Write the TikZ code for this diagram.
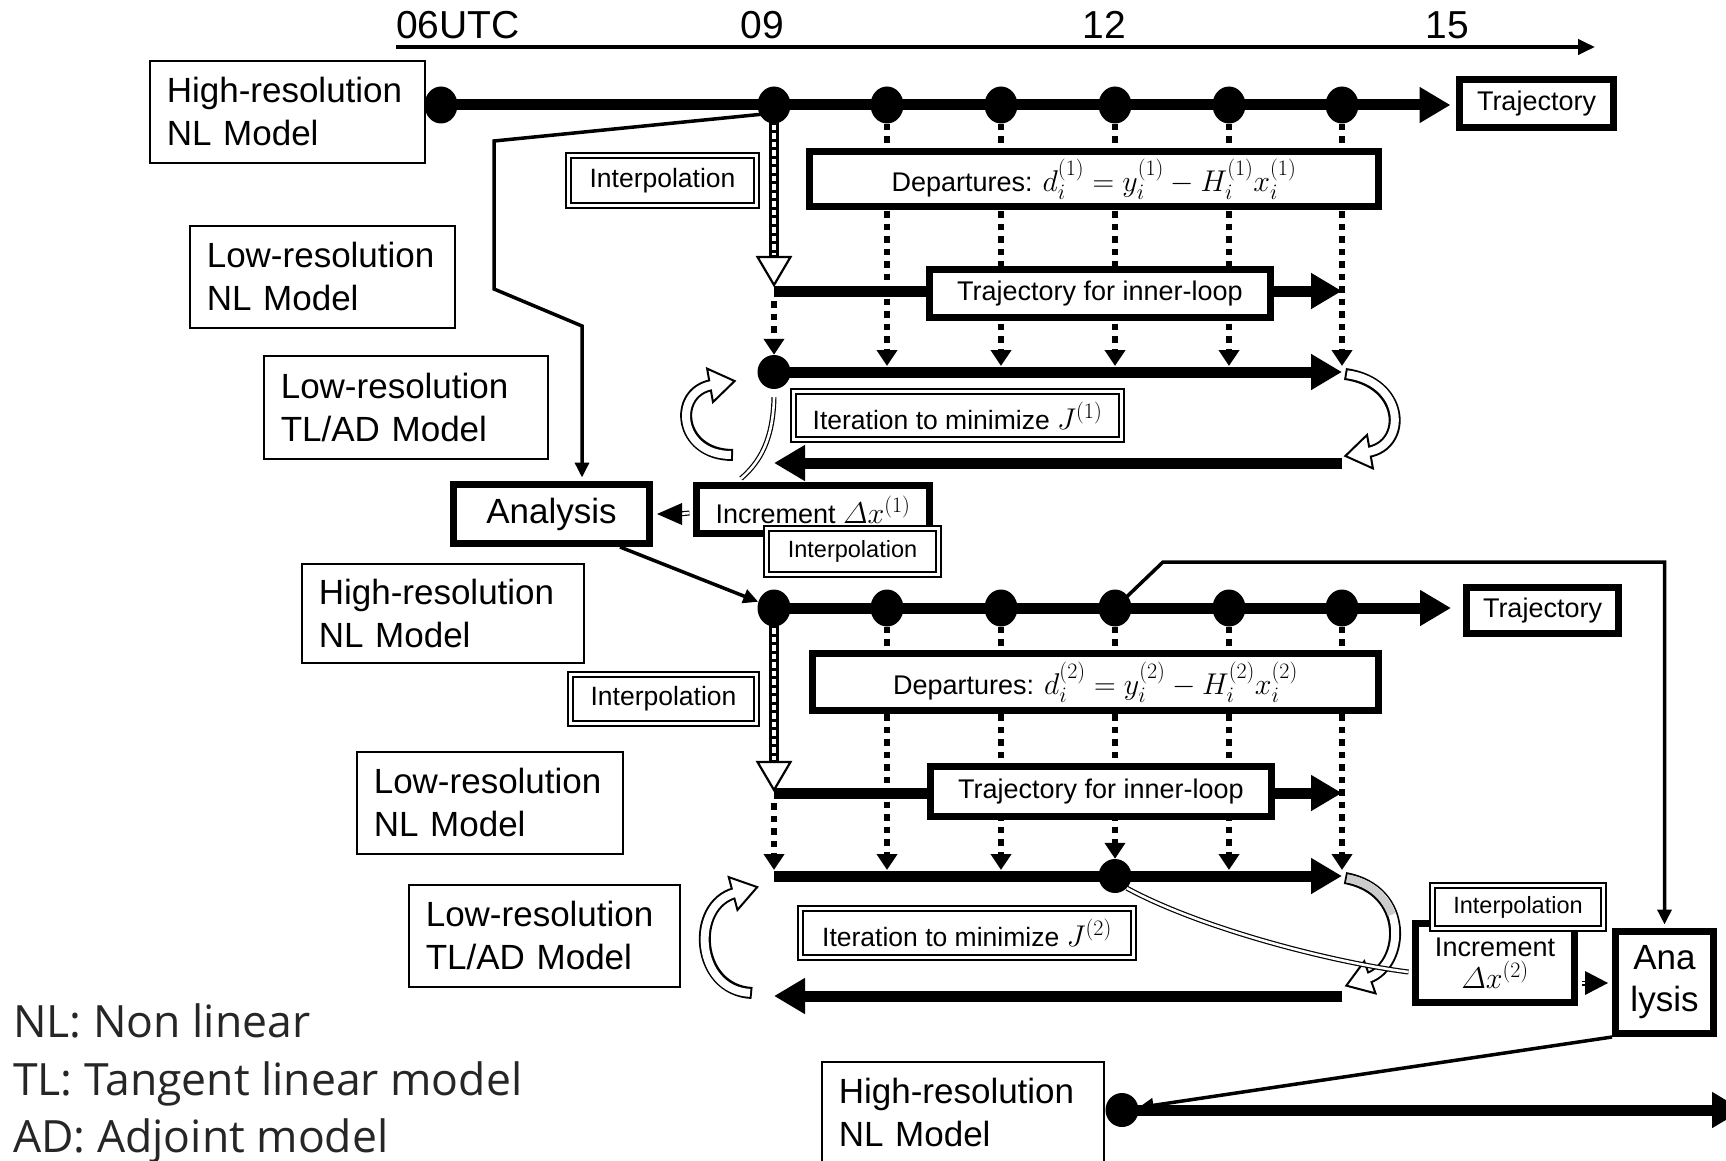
\RequirePackage{fix-cm}
\documentclass[tikz,border=0pt]{standalone}
\usepackage{amsmath}
\usepackage[no-math]{fontspec}
\setmainfont{Liberation Sans}
\newfontfamily\legendfont{Open Sans}
\usetikzlibrary{arrows.meta,calc,shapes.geometric}
\definecolor{legendgray}{HTML}{262626}
\DeclareMathSizes{30}{30}{22}{16}
\newcommand\mth[1]{{\fontsize{30}{32}\selectfont$#1$}}
\newcommand\hollowarrow[3]{%
  \draw[line width=12pt] #1;
  \filldraw[fill=white, line width=2pt, line join=miter]
    ($(#3)!-23pt!(#2)$) -- ($(#3)!2pt!(#2)!17pt!90:(#2)$) --
    ($(#3)!2pt!(#2)!17pt!-90:(#2)$) -- cycle;
  \draw[white, line width=8pt, shorten <=2pt] #1;
}
\begin{document}
\begin{tikzpicture}[x=1pt,y=-1pt,
  model/.style={draw, line width=1.8pt, fill=white, align=left, inner xsep=17pt,
    inner ysep=0pt, anchor=north west, minimum height=102pt,
    font=\fontsize{35}{43}\selectfont},
  thickbox/.style={draw, line width=7pt, fill=white, inner sep=0pt, align=center,
    font=\fontsize{27}{32}\selectfont},
  dblbox/.style={draw, double, double distance=3.5pt, line width=1.5pt, fill=white,
    inner sep=0pt, font=\fontsize{26.5}{32}\selectfont},
  bigdot/.style={ellipse, fill=black, inner sep=0pt, minimum width=33pt, minimum height=37pt},
  flow/.style={line width=11pt, -{Triangle[length=31pt,width=34pt]}},
  obs/.style={line width=6.5pt, dash pattern=on 6.5pt off 6pt, -{Triangle[length=16pt,width=20pt]}},
  conn/.style={line width=3.5pt, -{Triangle[length=15pt,width=14pt]}},
  dbl/.style={double=white, double distance=2.6pt, line width=1.2pt},
  axlab/.style={inner sep=0pt, font=\fontsize{39}{45}\selectfont},
  legendtxt/.style={inner sep=0pt, anchor=base west, text=legendgray,
    font=\legendfont\fontsize{44.5}{54}\selectfont},
]
\useasboundingbox (0,0) rectangle (1726,1161);
\fill[white] (0,0) rectangle (1726,1161);

% time axis
\coordinate (ax0) at (396,47);
\coordinate (ax1) at (1595,47);
\draw[line width=4pt, -{Triangle[length=17pt,width=15pt]}] (ax0) -- (ax1);
\node[axlab, anchor=base west] (t06) at (396,39) {06UTC};
\node[axlab, anchor=base] (t09) at (762,39) {09};
\node[axlab, anchor=base] (t12) at (1104,39) {12};
\node[axlab, anchor=base] (t15) at (1447,39) {15};

% dots
\node[bigdot] (A0) at (441,105) {};
\foreach \n/\x in {1/774,2/887,3/1001,4/1115,5/1229,6/1342}{
  \node[bigdot] (A\n) at (\x,105) {};
  \node[bigdot] (B\n) at (\x,608) {};
}
\node[bigdot, minimum height=34pt] (I1) at (774,372) {};
\node[bigdot, minimum height=34pt] (I2) at (1115,876) {};
\node[bigdot, minimum height=34pt] (C0) at (1122,1110) {};

\coordinate (ti1s) at (774,291);
\coordinate (ti2s) at (774,793);
\coordinate (i2s) at (774,876);
\coordinate (r1s) at (1342,463);
\coordinate (r2s) at (1342,996);

% dotted observation lines
\foreach \n in {2,...,6} \draw[obs] (A\n) -- ($(A\n |- I1)+(0,-6)$);
\draw[obs] ($(ti1s)+(0,10)$) -- (I1);
\foreach \n in {2,3,5,6} \draw[obs] (B\n) -- ($(B\n |- i2s)+(0,-6)$);
\draw[obs] (B4) -- (I2);
\draw[obs] ($(ti2s)+(0,10)$) -- ($(i2s)+(0,-6)$);

% hollow dashed interpolation arrows
\coordinate (hA) at (774,257);
\draw[line width=10pt] (A1.center) -- (hA);
\draw[white, line width=4.5pt, dash pattern=on 5.5pt off 3pt] ($(A1.center)+(0,20)$) -- ($(hA)+(0,-2)$);
\filldraw[fill=white, line width=2.2pt, line join=miter] ($(hA)+(-16.5,0)$) -- ($(hA)+(16.5,0)$) -- ($(hA)+(0,28)$) -- cycle;
\coordinate (hB) at (774,762);
\draw[line width=10pt] (B1.center) -- (hB);
\draw[white, line width=4.5pt, dash pattern=on 5.5pt off 3pt] ($(B1.center)+(0,20)$) -- ($(hB)+(0,-2)$);
\filldraw[fill=white, line width=2.2pt, line join=miter] ($(hB)+(-16.5,0)$) -- ($(hB)+(16.5,0)$) -- ($(hB)+(0,28)$) -- cycle;

% trajectory boxes and thick flows
\node[thickbox, minimum width=154pt, minimum height=48pt] (trajA) at (1536.5,103.5) {Trajectory};
\node[thickbox, minimum width=152pt, minimum height=46pt] (trajB) at (1542.5,610.5) {Trajectory};
\draw[flow, shorten >=5.5pt] (A0.center) -- (A0 -| trajA.west);
\draw[flow] (ti1s) -- (ti1s -| A6);
\draw[flow] (I1.center) -- (I1 -| A6);
\draw[flow] (r1s) -- (r1s -| I1);
\draw[flow, shorten >=12pt] (B1.center) -- (B1 -| trajB.west);
\draw[flow] (ti2s) -- (ti2s -| B6);
\draw[flow] (i2s) -- (i2s -| B6);
\draw[flow] (r2s) -- (r2s -| i2s);
\draw[flow] (C0.center) -- (1743,1110);

% model boxes
\node[model, text width=241pt] (hr1) at (148.9,59.9) {High-resolution\\NL Model};
\node[model, text width=231pt] (lrn1) at (188.9,224.9) {Low-resolution\\NL Model};
\node[model, text width=250pt, minimum height=103pt] (lrt1) at (262.9,354.9) {Low-resolution\\TL/AD Model};
\node[model, text width=248pt, minimum height=99pt] (hr2) at (300.9,562.9) {High-resolution\\NL Model};
\node[model, text width=232pt] (lrn2) at (355.9,750.9) {Low-resolution\\NL Model};
\node[model, text width=237pt] (lrt2) at (407.9,883.9) {Low-resolution\\TL/AD Model};
\node[model, text width=248pt] (hr3) at (820.9,1060.9) {High-resolution\\NL Model};

% thick boxes
\node[thickbox, minimum width=569pt, minimum height=55pt] (dep1) at (1094,179)
  {Departures: \mth{d_i^{(1)} = y_i^{(1)} - H_i^{(1)}x_i^{(1)}}};
\node[thickbox, minimum width=341pt, minimum height=48pt] (tin1) at (1100,293.5) {Trajectory for inner-loop};
\node[thickbox, minimum width=233pt, minimum height=48pt] (inc1) at (813,509.5) {Increment \mth{\varDelta x^{(1)}}};
\node[thickbox, minimum width=196pt, minimum height=59pt, font=\fontsize{35}{42}\selectfont] (ana1) at (551.5,514) {Analysis};
\node[thickbox, minimum width=566pt, minimum height=57pt] (dep2) at (1095.5,682)
  {Departures: \mth{d_i^{(2)} = y_i^{(2)} - H_i^{(2)}x_i^{(2)}}};
\node[thickbox, minimum width=341pt, minimum height=50pt] (tin2) at (1101,791.5) {Trajectory for inner-loop};
\node[thickbox, minimum width=159pt, minimum height=79pt] (inc2) at (1495,963) {Increment\\\mth{\varDelta x^{(2)}}};
\node[thickbox, minimum width=98pt, minimum height=102pt, font=\fontsize{35}{42}\selectfont] (ana2) at (1664.5,982.5) {Ana\\lysis};

% double-bordered boxes
\node[dblbox, minimum width=188pt, minimum height=50pt] (ip1) at (662.5,180.5) {Interpolation};
\node[dblbox, minimum width=328pt, minimum height=48pt] (it1) at (957.5,415.5) {Iteration to minimize \mth{J^{(1)}}};
\node[dblbox, minimum width=172pt, minimum height=46pt, font=\fontsize{23.5}{28}\selectfont] (ip1b) at (852.5,551.5) {Interpolation};
\node[dblbox, minimum width=186pt, minimum height=49pt] (ip2) at (663.5,699) {Interpolation};
\node[dblbox, minimum width=333pt, minimum height=49pt] (it2) at (967,933) {Iteration to minimize \mth{J^{(2)}}};

% hollow curved arrows
\hollowarrow{(733,455) .. controls (678,455) and (672,392) .. (712,385)}{672,392}{712,385}
\hollowarrow{(1345,374) .. controls (1405,382) and (1408,445) .. (1368,452)}{1408,445}{1368,452}
\hollowarrow{(752,993) .. controls (695,990) and (690,905) .. (735,893)}{690,905}{735,893}
\hollowarrow{(1345,878) .. controls (1410,890) and (1405,965) .. (1368,978)}{1405,965}{1368,978}
\draw[gray!40, line width=8pt, shorten <=2pt] (1345,878) .. controls (1371,882.8) and (1385.8,897.7) .. (1391.8,914.6);

% double connectors
\draw[dbl] ($(I1.south)+(0,8)$) .. controls (773,440) and (760,462) .. ($(inc1.north west)!0.2!(inc1.north east)+(0,-3.5)$);
\draw[dbl] (I2.south east) .. controls (1200,928) and (1330,962) .. ($(inc2.west)+(-3.5,9)$);
\draw[dbl] ($(inc1.west)+(-3.5,3.5)$) -- ($(ana1.east)+(26,0)$);
\fill ($(ana1.east)+(4,0)$) -- ++(25,-11) -- ++(0,22) -- cycle;
\draw[dbl] ($(inc2.east)+(3.5,20)$) -- ($(ana2.west)+(-24,0.5)$);
\fill ($(ana2.west)+(-4,0.5)$) -- ++(-23,-12) -- ++(0,24) -- cycle;

\node[dblbox, minimum width=171pt, minimum height=43pt, font=\fontsize{23.5}{28}\selectfont] (ip2b) at (1518,907) {Interpolation};

% thin connectors
\coordinate (k1) at (494,141);
\coordinate (k2) at (494,289);
\coordinate (k3) at (582,326);
\draw[conn, shorten >=3.5pt] ($(A1.center)+(0,8)$) -- (k1) -- (k2) -- (k3) -- (k3 |- ana1.north);
\draw[conn] ($(ana1.south east)+(-33,0)$) -- (B1);
\coordinate (k4) at (1163,562);
\draw[conn, shorten >=3.5pt] (B4.center) -- (k4) -| (ana2.north);
\draw[conn] (ana2.south west) -- (C0);

% legend
\node[legendtxt] (lg1) at (13,1037) {NL: Non linear};
\node[legendtxt] (lg2) at (13,1095) {TL: Tangent linear model};
\node[legendtxt] (lg3) at (13,1152) {AD: Adjoint model};
\end{tikzpicture}
\end{document}
